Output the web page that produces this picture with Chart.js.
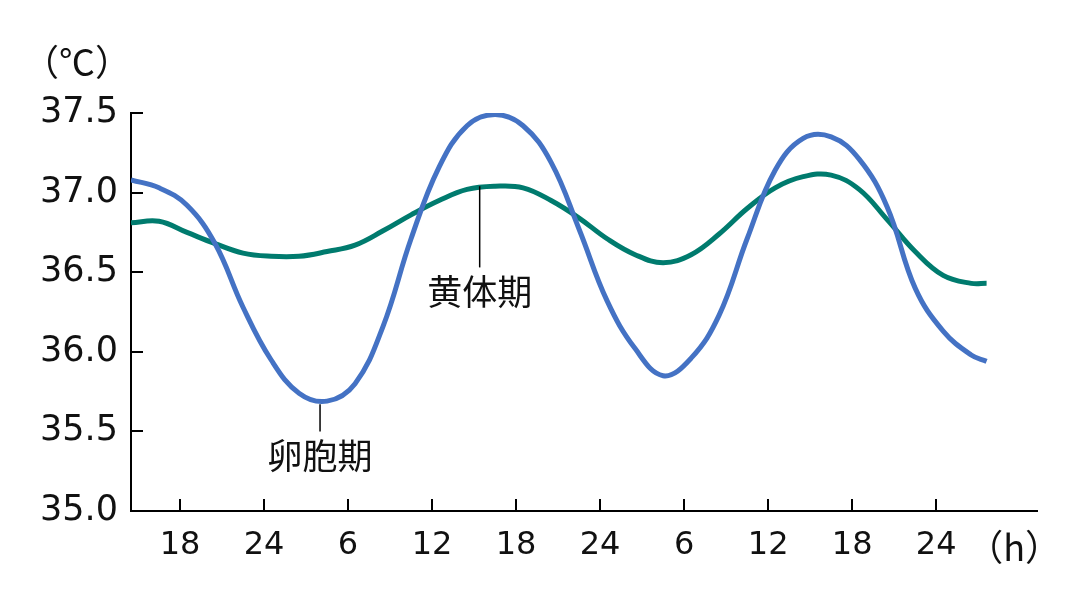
<!DOCTYPE html>
<html>
<head>
<meta charset="utf-8">
<script src="https://cdn.jsdelivr.net/npm/chart.js@4"></script>
<style>
  body { margin: 0; background: #fff; }
  .wrap { width: 1080px; height: 603px; }
</style>
</head>
<body>
<div class="wrap"><canvas id="tempChart"></canvas></div>
<script>
// hours counted continuously (18 = 18h, 30 = 6h next day, ...)
const hours = [14.5, 16.5, 18.5, 20.5, 22.5, 24.5, 26.5, 28.5, 30.5, 32.5, 34.5, 36.5, 38.5, 40.5, 42.5, 44.5, 46.5, 48.5, 50.5, 52.5, 54.5, 56.5, 58.5, 60.5, 62.5, 64.5, 66.5, 68.5, 70.5, 72.5, 74.5, 75.6];
const follicularTemps = [37.08, 37.03, 36.92, 36.68, 36.28, 35.95, 35.74, 35.69, 35.80, 36.16, 36.71, 37.16, 37.42, 37.49, 37.42, 37.19, 36.77, 36.32, 36.02, 35.85, 35.96, 36.23, 36.71, 37.14, 37.34, 37.35, 37.21, 36.91, 36.40, 36.13, 35.98, 35.94];
const lutealTemps = [36.81, 36.82, 36.75, 36.68, 36.62, 36.60, 36.60, 36.63, 36.67, 36.76, 36.86, 36.95, 37.02, 37.04, 37.03, 36.95, 36.84, 36.71, 36.61, 36.56, 36.61, 36.74, 36.90, 37.03, 37.10, 37.11, 37.02, 36.83, 36.63, 36.48, 36.43, 36.43];

const tickHours = [18, 24, 30, 36, 42, 48, 54, 60, 66, 72];
const tickLabels = ['18', '24', '6', '12', '18', '24', '6', '12', '18', '24'];
const yTicks = [35.0, 35.5, 36.0, 36.5, 37.0, 37.5];

const phaseLabels = ['卵胞期', '黄体期'];
const phaseHours = [28, 39.4];
const phaseFrom = [35.67, 37.04];
const phaseTo = [35.5, 36.53];

const NUM_FONT = '"DejaVu Sans", Verdana, sans-serif';
const JP_FONT = '"Noto Sans CJK JP", sans-serif';

const toPoints = (xs, ys) => xs.map((x, i) => ({ x: x, y: ys[i] }));

const extras = {
  id: 'extras',
  afterDraw(chart) {
    const ctx = chart.ctx;
    const xs = chart.scales.x, ys = chart.scales.y;
    const area = chart.chartArea;
    ctx.save();
    ctx.strokeStyle = '#000';
    ctx.lineWidth = 2;
    // inward tick marks
    tickHours.forEach(h => {
      const px = Math.round(xs.getPixelForValue(h));
      ctx.beginPath();
      ctx.moveTo(px, area.bottom);
      ctx.lineTo(px, area.bottom - 12);
      ctx.stroke();
    });
    yTicks.forEach(v => {
      const py = Math.round(ys.getPixelForValue(v));
      ctx.beginPath();
      ctx.moveTo(area.left, py);
      ctx.lineTo(area.left + 12, py);
      ctx.stroke();
    });
    // phase labels with leader lines
    ctx.lineWidth = 1.5;
    ctx.fillStyle = '#111';
    ctx.font = '35px ' + JP_FONT;
    ctx.textAlign = 'center';
    ctx.textBaseline = 'middle';
    phaseLabels.forEach((txt, i) => {
      const px = xs.getPixelForValue(phaseHours[i]);
      const y1 = ys.getPixelForValue(phaseFrom[i]);
      const y2 = ys.getPixelForValue(phaseTo[i]);
      ctx.beginPath();
      ctx.moveTo(px, y1);
      ctx.lineTo(px, y2);
      ctx.stroke();
      ctx.fillText(txt, px, y2 + 24);
    });
    // units
    ctx.font = '36px ' + JP_FONT;
    ctx.fillText('（℃）', 77, 62);
    ctx.textAlign = 'right';
    ctx.fillText('（h）', area.right + 24, 547);
    ctx.restore();
  }
};

new Chart(document.getElementById('tempChart'), {
  type: 'line',
  data: {
    datasets: [{
      label: '卵胞期',
      data: toPoints(hours, follicularTemps),
      borderColor: '#4472C4',
      borderWidth: 5,
      pointRadius: 0,
      tension: 0.4,
      fill: false
    }, {
      label: '黄体期',
      data: toPoints(hours, lutealTemps),
      borderColor: '#007B6E',
      borderWidth: 5,
      pointRadius: 0,
      tension: 0.4,
      fill: false
    }]
  },
  options: {
    responsive: true,
    maintainAspectRatio: false,
    animation: false,
    layout: { padding: { top: 113, right: 43, left: 0, bottom: 0 } },
    plugins: { legend: { display: false }, tooltip: { enabled: false } },
    scales: {
      x: {
        type: 'linear',
        min: 14.5,
        max: 79.2,
        afterBuildTicks: s => { s.ticks = tickHours.map(v => ({ value: v })); },
        afterFit: s => { s.height = 92; },
        ticks: {
          color: '#111',
          font: { family: NUM_FONT, size: 32 },
          padding: 15,
          maxRotation: 0,
          autoSkip: false,
          callback: (v) => tickLabels[tickHours.indexOf(v)]
        },
        grid: { drawOnChartArea: false, drawTicks: false },
        border: { display: true, color: '#000', width: 2 }
      },
      y: {
        min: 35,
        max: 37.5,
        afterBuildTicks: s => { s.ticks = yTicks.map(v => ({ value: v })); },
        afterFit: s => { s.width = 131; },
        ticks: {
          color: '#111',
          font: { family: NUM_FONT, size: 35 },
          padding: 13,
          callback: v => v.toFixed(1)
        },
        grid: { drawOnChartArea: false, drawTicks: false },
        border: { display: true, color: '#000', width: 2 }
      }
    }
  },
  plugins: [extras]
});
</script>
</body>
</html>
